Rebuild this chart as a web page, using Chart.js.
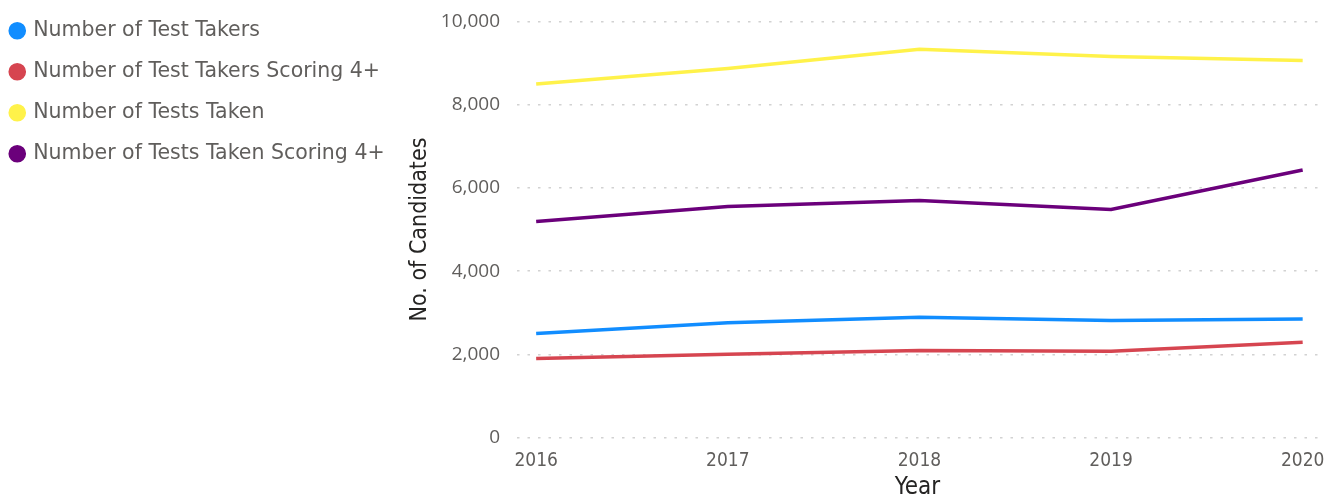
<!DOCTYPE html>
<html>
<head>
<meta charset="utf-8">
<script src="https://cdn.jsdelivr.net/npm/chart.js@4"></script>
<style>
  body { margin: 0; background: #fff; }
  #wrap { width: 1327px; height: 496px; }
</style>
</head>
<body>
<div id="wrap"><canvas id="js--chart"></canvas></div>
<script>
// data
const years = [2016, 2017, 2018, 2019, 2020];
const testTakers = [2500, 2760, 2890, 2810, 2850];
const testTakers4 = [1900, 2000, 2090, 2075, 2290];
const testsTaken = [8500, 8870, 9330, 9160, 9060];
const testsTaken4 = [5190, 5550, 5700, 5480, 6430];
const yTicks = [0, 2000, 4000, 6000, 8000, 10000];

function pts(vals) {
    return years.map((y, i) => ({ x: y, y: vals[i] }));
}

function line(label, vals, color) {
    return {
        label: label,
        data: pts(vals),
        borderColor: color,
        backgroundColor: color,
        borderWidth: 3.5,
        pointRadius: 0,
        tension: 0
    };
}

const data = {
    datasets: [
        line("Number of Test Takers", testTakers, "#118DFF"),
        line("Number of Test Takers Scoring 4+", testTakers4, "#D64550"),
        line("Number of Tests Taken", testsTaken, "#FFF24A"),
        line("Number of Tests Taken Scoring 4+", testsTaken4, "#6B007B")
    ]
};

const axisFont = "'Liberation Sans Narrow', 'DejaVu Sans Condensed', sans-serif";

// plot box wanted: left 517, top 21, bottom 437, right 1318
const plotLeft = 517;
const yTitleCenter = 420;
let yWidth = null;

// the legend on the left is capped at a quarter of the width, let it be as wide as its text
const legendNoClamp = {
    id: 'legendNoClamp',
    beforeLayout(chart) {
        const lg = chart.legend;
        if (lg && !lg._noClamp) {
            const fit = lg.fit;
            lg.fit = function () { this.maxWidth = 700; fit.call(this); };
            lg._noClamp = true;
        }
    }
};

const config = {
    type: 'line',
    data: data,
    plugins: [legendNoClamp],
    options: {
        responsive: true,
        maintainAspectRatio: false,
        animation: false,
        layout: { padding: { top: 0, right: 9, left: -9, bottom: 0 } },
        plugins: {
            tooltip: { enabled: false },
            legend: {
                position: 'left',
                align: 'start',
                labels: {
                    usePointStyle: true,
                    pointStyle: 'circle',
                    boxWidth: 11.5,
                    boxHeight: 10,
                    padding: 20.5,
                    color: '#605E5C',
                    font: { family: "'DejaVu Sans', sans-serif", size: 20.5 }
                }
            }
        },
        scales: {
            x: {
                type: 'linear',
                min: 2015.9,
                max: 2020.08,
                grid: { display: false, drawTicks: false },
                border: { display: false },
                afterBuildTicks: (scale) => { scale.ticks = years.map(v => ({ value: v })); },
                afterFit: (scale) => {
                    scale.height = 58.5;
                    scale.paddingLeft = 0;
                    scale.paddingRight = 0;
                },
                ticks: {
                    color: '#605E5C',
                    font: { family: axisFont, size: 19, lineHeight: 1 },
                    padding: 14.5,
                    maxRotation: 0,
                    callback: (v) => String(v)
                },
                title: {
                    display: true,
                    text: 'Year',
                    color: '#252423',
                    font: { family: axisFont, size: 24, lineHeight: 1 },
                    padding: { top: 0, bottom: -4 }
                }
            },
            y: {
                min: 0,
                max: 10000,
                afterBuildTicks: (scale) => { scale.ticks = yTicks.map(v => ({ value: v })); },
                afterFit: (scale) => {
                    if (yWidth !== null) scale.width = yWidth;
                    scale.paddingTop = 21.5;
                    scale.paddingBottom = 0;
                },
                border: { display: false, dash: [2.5, 8] },
                grid: { color: '#D2D2D2', lineWidth: 1.5, drawTicks: false },
                ticks: {
                    color: '#605E5C',
                    font: { family: "'Open Sans', sans-serif", size: 19 },
                    padding: 17,
                    callback: (v) => v.toLocaleString('en-US')
                },
                title: {
                    display: true,
                    text: 'No. of Candidates',
                    color: '#252423',
                    font: { family: axisFont, size: 23, lineHeight: 1 },
                    padding: { top: 0, bottom: 0 }
                }
            }
        }
    }
};

const chart = new Chart(document.getElementById("js--chart"), config);
const legendRight = chart.legend.left + chart.legend.width;
yWidth = plotLeft - legendRight;
config.options.scales.y.title.padding = { top: yTitleCenter - 11.5 - legendRight, bottom: 0 };
chart.update();
</script>
</body>
</html>
